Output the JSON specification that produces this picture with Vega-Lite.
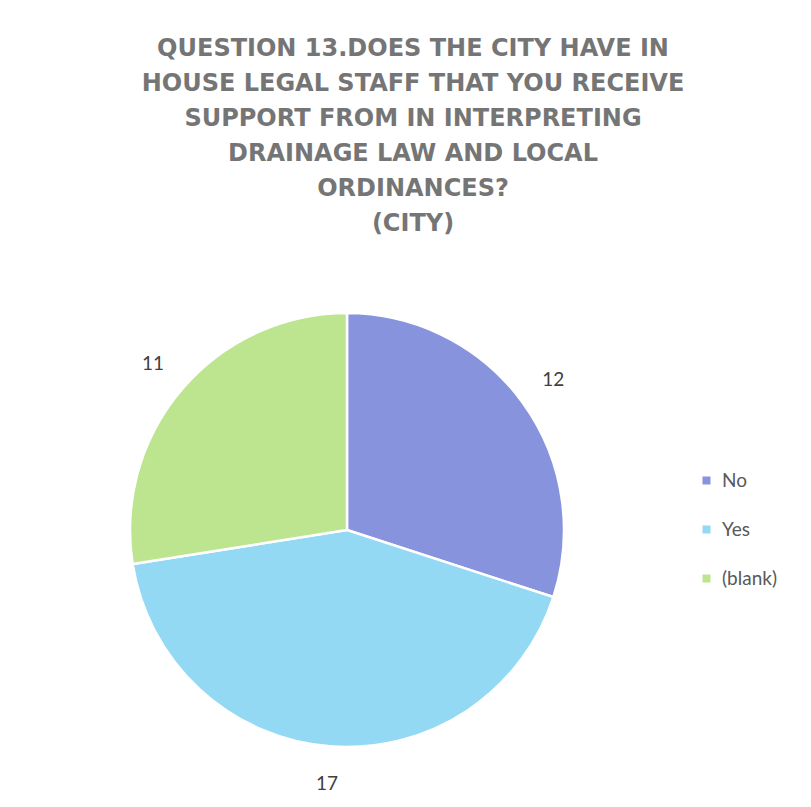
{
  "$schema": "https://vega.github.io/schema/vega-lite/v6.json",
  "autosize": {"type": "none"},
  "width": 440,
  "height": 440,
  "padding": {"left": 127, "top": 310, "right": 244, "bottom": 57},
  "background": "white",
  "title": {
    "text": ["QUESTION 13.DOES THE CITY HAVE IN", "HOUSE LEGAL STAFF THAT YOU RECEIVE", "SUPPORT FROM IN INTERPRETING", "DRAINAGE LAW AND LOCAL", "ORDINANCES?", "(CITY)"],
    "anchor": "middle",
    "dx": 66,
    "offset": 72,
    "font": "DejaVu Sans",
    "fontWeight": "bold",
    "fontSize": 24,
    "lineHeight": 35,
    "color": "#757575"
  },
  "data": {
    "values": [
      {"answer": "No", "count": 12, "order": 1},
      {"answer": "Yes", "count": 17, "order": 2},
      {"answer": "(blank)", "count": 11, "order": 3}
    ]
  },
  "encoding": {
    "theta": {"field": "count", "type": "quantitative", "stack": true},
    "order": {"field": "order", "type": "quantitative", "sort": "ascending"},
    "color": {
      "field": "answer",
      "type": "nominal",
      "sort": ["No", "Yes", "(blank)"],
      "scale": {"domain": ["No", "Yes", "(blank)"], "range": ["#8793dc", "#94d9f3", "#bde590"]},
      "legend": {
        "orient": "none",
        "legendX": 570,
        "legendY": 161,
        "title": null,
        "symbolType": "square",
        "symbolSize": 90,
        "labelFontSize": 19,
        "labelFont": "Lato",
        "labelColor": "#595959",
        "rowPadding": 29,
        "labelOffset": 6
      }
    }
  },
  "layer": [
    {"mark": {"type": "arc", "outerRadius": 217, "stroke": "white", "strokeWidth": 2.5}},
    {"mark": {"type": "text", "radius": 255, "fontSize": 19, "font": "Lato", "color": "#404040"},
     "encoding": {"text": {"field": "count", "type": "quantitative"}, "color": {"value": "#404040"}}}
  ],
  "config": {"view": {"stroke": null}}
}
